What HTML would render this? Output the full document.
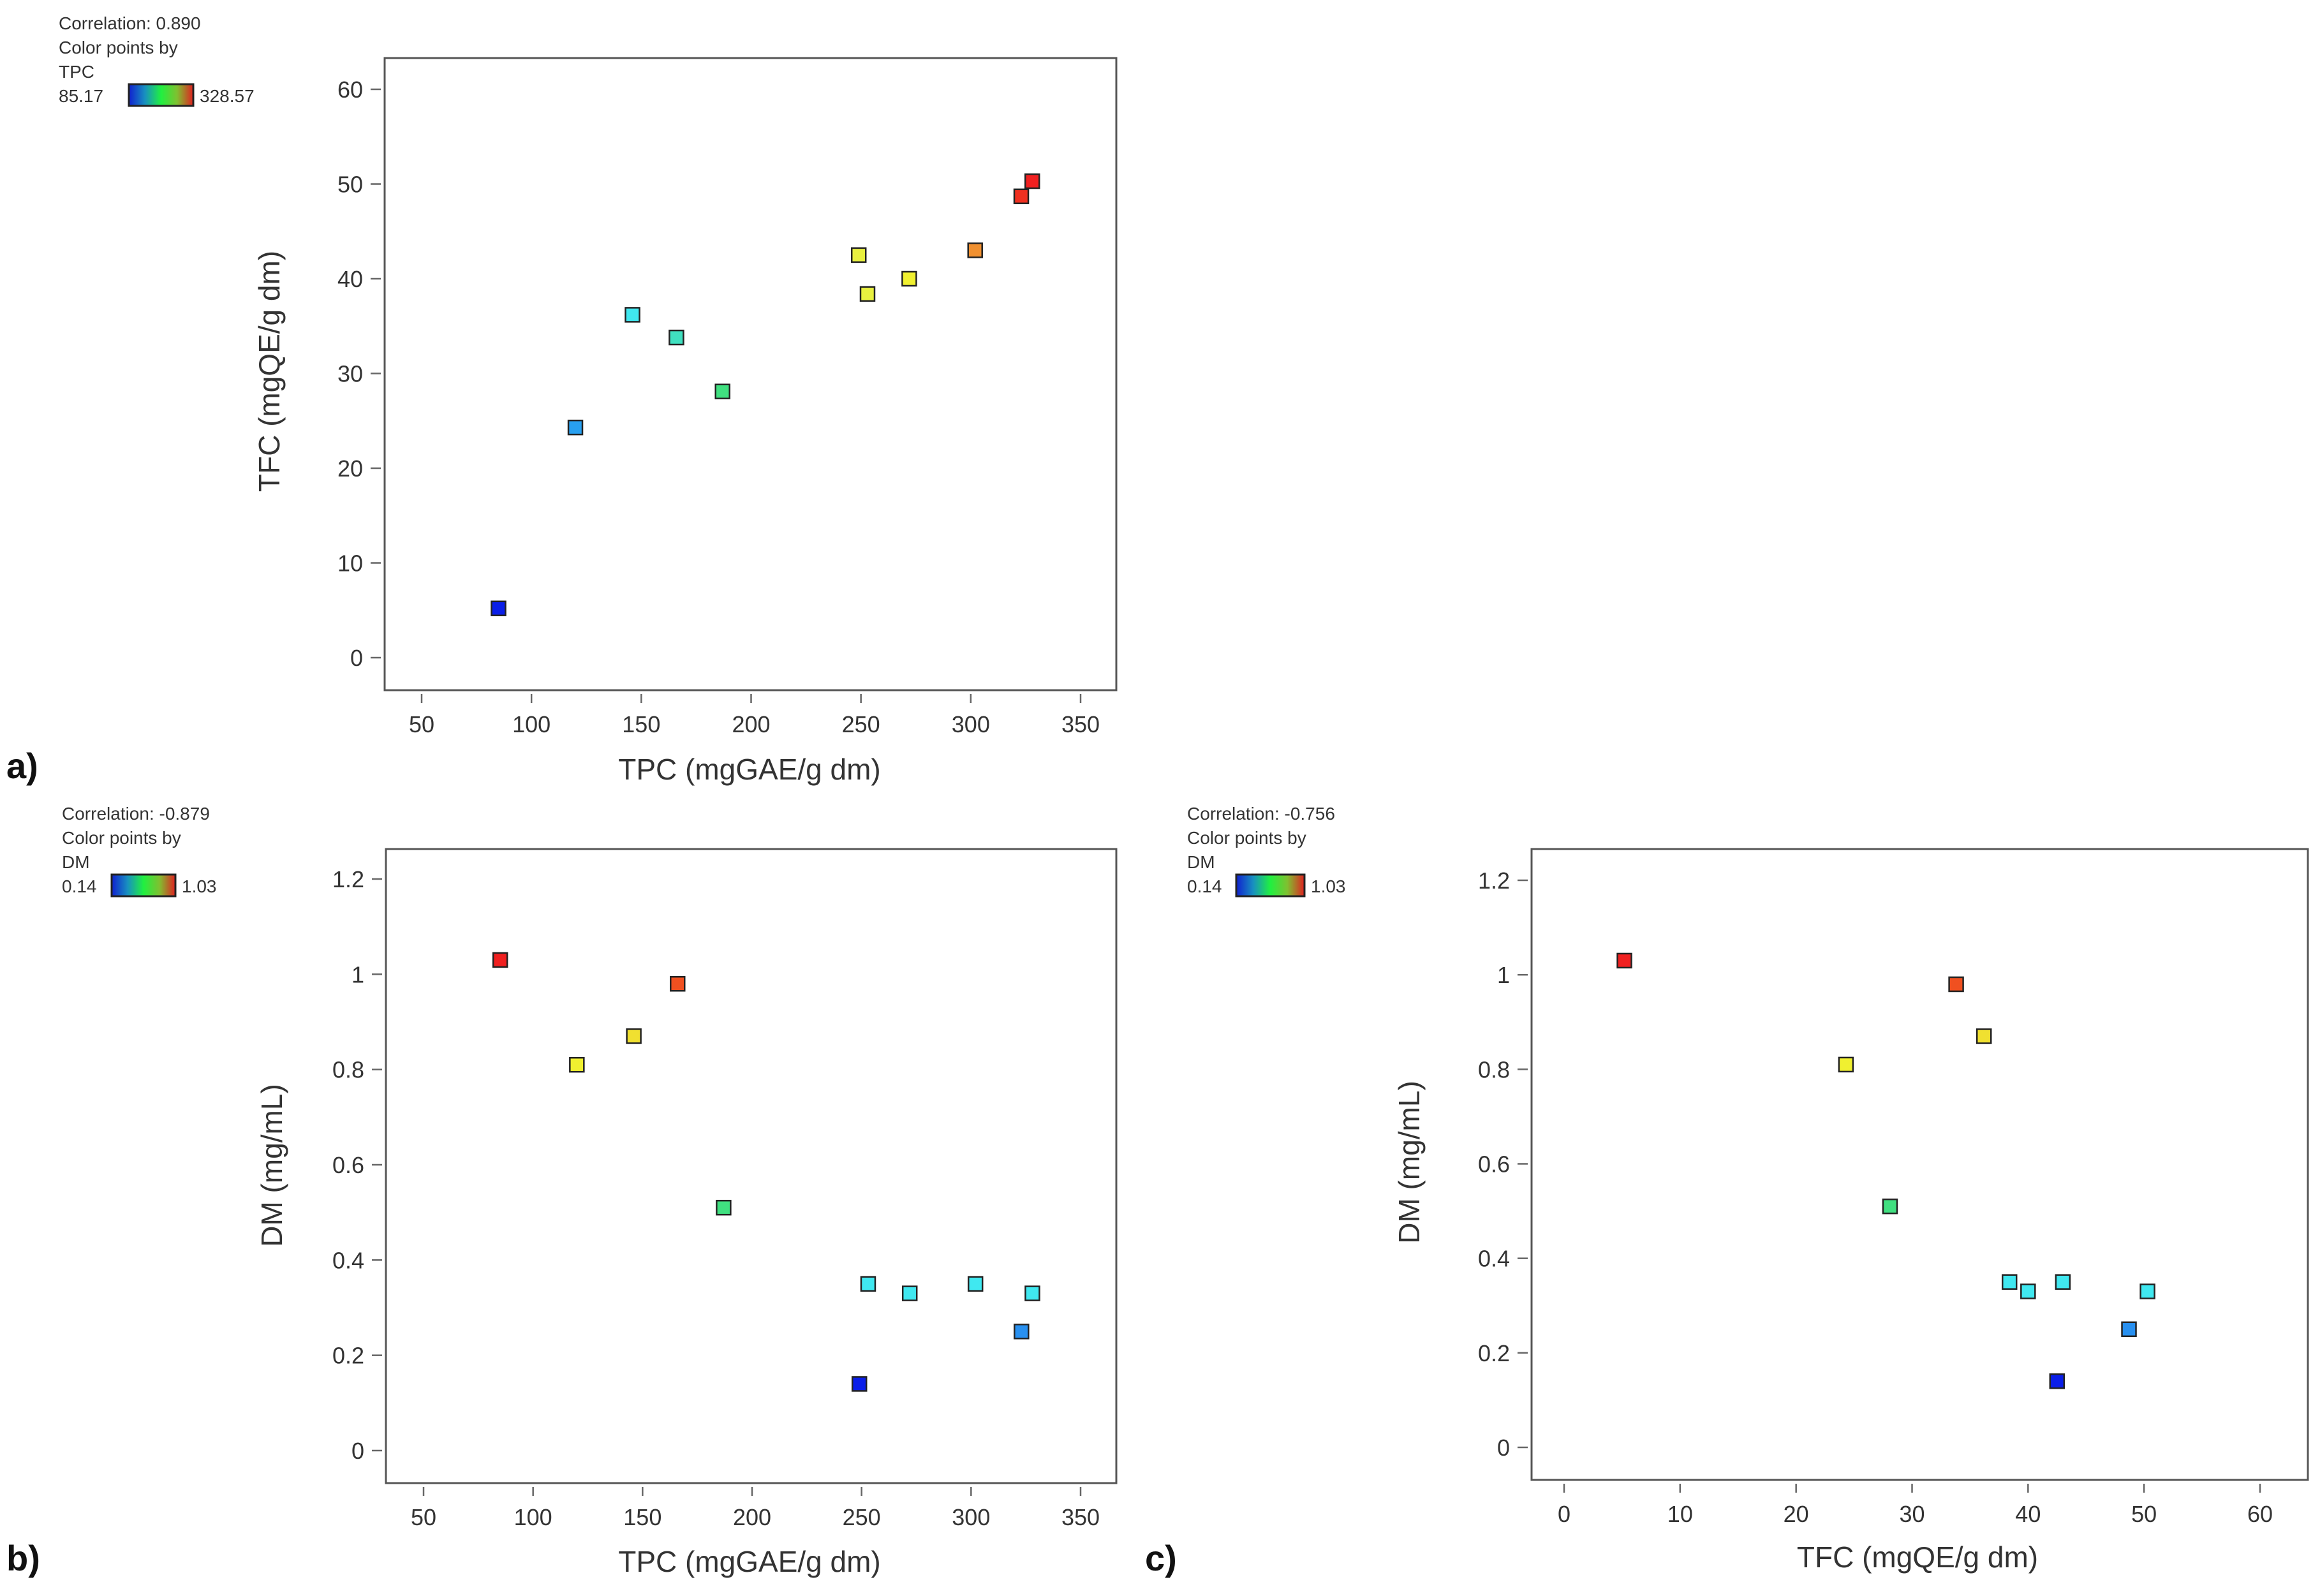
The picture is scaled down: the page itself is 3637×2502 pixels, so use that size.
<!DOCTYPE html>
<html><head><meta charset="utf-8"><style>
html,body{margin:0;padding:0;background:#fff;}
svg{display:block;font-family:"Liberation Sans",sans-serif;}
</style></head><body>
<svg id="c" width="3637" height="2502" viewBox="0 0 3637 2502">
<defs>
<linearGradient id="cm" x1="0" x2="1" y1="0" y2="0">
<stop offset="0" stop-color="#1020d0"/><stop offset="0.25" stop-color="#1890c0"/><stop offset="0.5" stop-color="#20f040"/><stop offset="0.75" stop-color="#80c030"/><stop offset="1" stop-color="#e02020"/>
</linearGradient>
</defs>
</svg>
<script>
const tpc=[85,120,146,166,187,249,253,272,302,323,328];
const tfc=[5.2,24.3,36.2,33.8,28.1,42.5,38.4,40,43,48.7,50.3];
const dm=[1.03,0.81,0.87,0.98,0.51,0.14,0.35,0.33,0.35,0.25,0.33];
const colorsTPC=['#0a1ee8','#28a0f0','#40e8f0','#40e0c0','#40e080','#e8f040','#e8f040','#f0f030','#f09030','#f03020','#f02020'];
const colorsDM=['#f02020','#f0f030','#f0e030','#f05020','#40e080','#0a1ee8','#40e8f0','#40e8f0','#40e8f0','#2890f0','#40e8f0'];
const ticksTPC=[50,100,150,200,250,300,350];
const ticksTFC=[0,10,20,30,40,50,60];
const ticksDM=[0,0.2,0.4,0.6,0.8,1,1.2];
const tickLabelsDM=['0','0.2','0.4','0.6','0.8','1','1.2'];

const svg=document.getElementById('c');
const NS='http://www.w3.org/2000/svg';
function mk(tag,attrs,parent){const e=document.createElementNS(NS,tag);for(const k in attrs)e.setAttribute(k,attrs[k]);(parent||svg).appendChild(e);return e;}
function txt(s,attrs,parent){const e=mk('text',attrs,parent);e.textContent=s;return e;}

function panel(p){
  const g=mk('g',{});
  
  
  const sx=v=>p.x0+(v-p.xa)/(p.xb-p.xa)*(p.x1-p.x0);
  const sy=v=>p.y0+(v-p.ya)/(p.yb-p.ya)*(p.y1-p.y0);
  const box=mk('rect',{x:p.bx0,y:p.by0,width:p.bx1-p.bx0,height:p.by1-p.by0,fill:'#fff',stroke:'#555','stroke-width':3},g);
  
  
  p.xt.forEach((v,i)=>{
    const X=sx(v);
    mk('line',{x1:X,x2:X,y1:p.by1+6,y2:p.by1+20,stroke:'#666','stroke-width':2.5},g);
    const t=txt(String(v),{x:X,y:p.by1+66,'font-size':36,fill:'#333','text-anchor':'middle'},g);
    
    
  });
  p.yt.forEach((v,i)=>{
    const Y=sy(v);
    mk('line',{x1:p.bx0-22,x2:p.bx0-6,y1:Y,y2:Y,stroke:'#666','stroke-width':2.5},g);
    const t=txt(p.ytl?p.ytl[i]:String(v),{x:p.bx0-34,y:Y+13,'font-size':36,fill:'#333','text-anchor':'end'},g);
    
    
  });
  p.xs.forEach((v,i)=>{
    const r=mk('rect',{x:sx(v)-11,y:sy(p.ys[i])-11,width:22,height:22,fill:p.cols[i],stroke:'#222','stroke-width':2.5},g);
    
    
  });
  const xt=txt(p.xlabel,{x:p.xlx,y:p.xly,'font-size':46,fill:'#333','text-anchor':'middle'},g);
  
  
  const yt=txt(p.ylabel,{x:0,y:0,'font-size':46,fill:'#333','text-anchor':'middle',transform:`translate(${p.ylx},${p.yly}) rotate(-90)`},g);
  
  
  const lg=mk('g',{},g);
  
  
  p.leg.forEach((s,i)=>txt(s,{x:p.lx,y:p.ly+i*38,'font-size':28,fill:'#333'},lg));
  txt(p.cmin,{x:p.lx,y:p.ly+3*38,'font-size':28,fill:'#333'},lg);
  mk('rect',{x:p.cbx,y:p.ly+3*38-28,width:p.cbw,height:34,fill:'url(#cm)',stroke:'#222','stroke-width':3},lg);
  txt(p.cmax,{x:p.cbx+p.cbw+10,y:p.ly+3*38,'font-size':28,fill:'#333'},lg);
  const pl=txt(p.tag,{x:p.tagx,y:p.tagy,'font-size':56,'font-weight':'bold',fill:'#111'},g);
  
  
}

panel({name:'panel-a-tfc-vs-tpc',bx0:603,bx1:1750,by0:91,by1:1082,
  xa:50,xb:350,x0:661,x1:1694,ya:0,yb:60,y0:1031,y1:140,
  xt:ticksTPC,yt:ticksTFC,xs:tpc,ys:tfc,cols:colorsTPC,
  xlabel:'TPC (mgGAE/g dm)',xlx:1175,xly:1222,ylabel:'TFC (mgQE/g dm)',ylx:438,yly:582,
  leg:['Correlation: 0.890','Color points by','TPC'],lx:92,ly:46,cmin:'85.17',cbx:202,cbw:101,cmax:'328.57',
  tag:'a)',tagx:10,tagy:1220});

panel({name:'panel-b-dm-vs-tpc',bx0:605,bx1:1750,by0:1331,by1:2325,
  xa:50,xb:350,x0:664,x1:1694,ya:0,yb:1.2,y0:2274,y1:1378,
  xt:ticksTPC,yt:ticksDM,ytl:tickLabelsDM,xs:tpc,ys:dm,cols:colorsDM,
  xlabel:'TPC (mgGAE/g dm)',xlx:1175,xly:2464,ylabel:'DM (mg/mL)',ylx:442,yly:1827,
  leg:['Correlation: -0.879','Color points by','DM'],lx:97,ly:1285,cmin:'0.14',cbx:175,cbw:100,cmax:'1.03',
  tag:'b)',tagx:10,tagy:2462});

panel({name:'panel-c-dm-vs-tfc',bx0:2401,bx1:3618,by0:1331,by1:2320,
  xa:0,xb:60,x0:2452,x1:3543,ya:0,yb:1.2,y0:2269,y1:1380,
  xt:ticksTFC,yt:ticksDM,ytl:tickLabelsDM,xs:tfc,ys:dm,cols:colorsDM,
  xlabel:'TFC (mgQE/g dm)',xlx:3006,xly:2457,ylabel:'DM (mg/mL)',ylx:2225,yly:1822,
  leg:['Correlation: -0.756','Color points by','DM'],lx:1861,ly:1285,cmin:'0.14',cbx:1938,cbw:107,cmax:'1.03',
  tag:'c)',tagx:1795,tagy:2462});
</script>
</body></html>
